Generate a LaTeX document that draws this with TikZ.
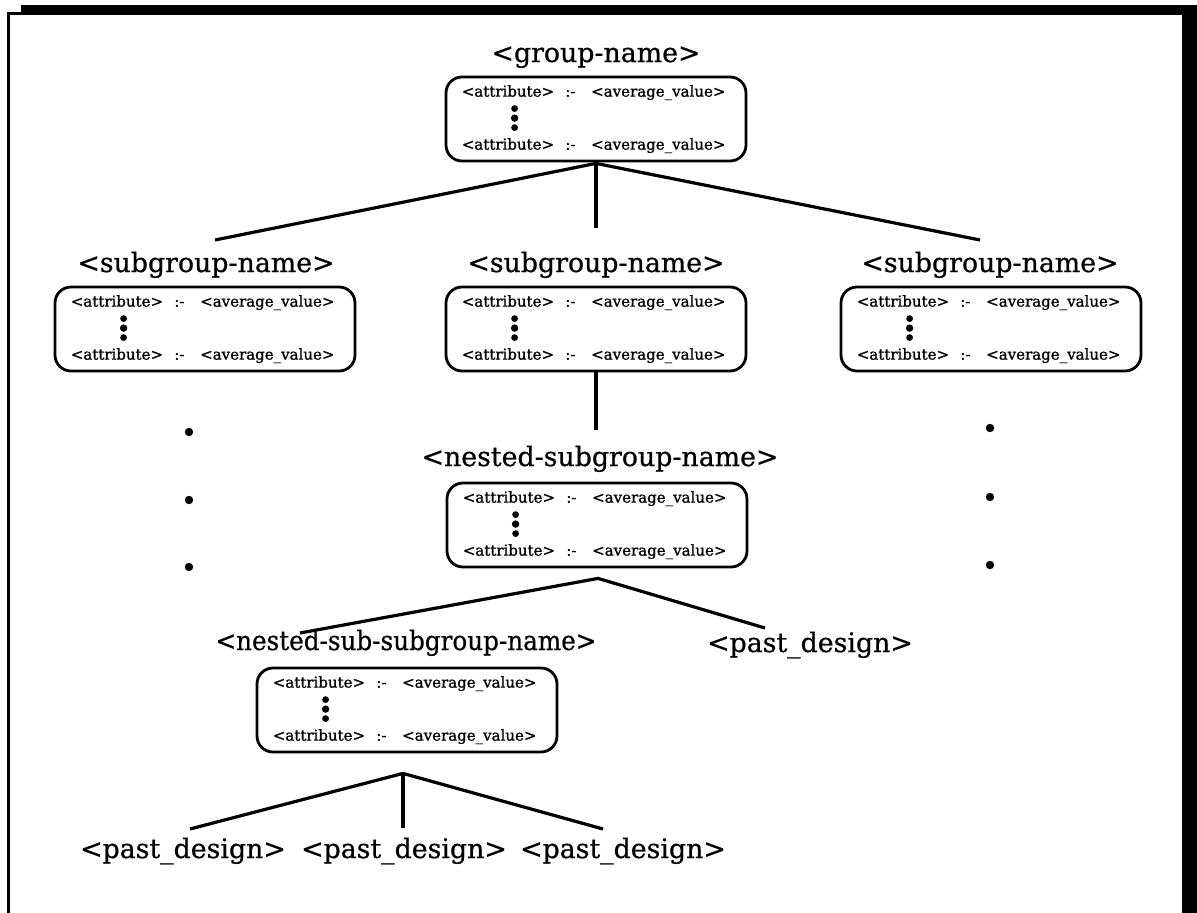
\documentclass[tikz,border=0pt]{standalone}
\usepackage{fontspec}
\setmainfont{DejaVu Serif}
\newfontfamily\headfont[FakeBold=0.7]{DejaVu Serif}
\newfontfamily\attrfont[FakeBold=1.1]{DejaVu Serif}
\usetikzlibrary{calc}
\tikzset{
  framepart/.style={fill=black},
  abox/.style={draw, line width=2.8pt, rounded corners=16pt, minimum width=300pt, minimum height=84pt, inner sep=0pt},
  head/.style={font=\headfont\fontsize{26.8}{31}\selectfont, inner sep=0pt, anchor=base},
  attr/.style={font=\attrfont\fontsize{15}{18}\selectfont, inner sep=0pt, anchor=base west},
  link/.style={line width=3.2pt},
  bigdot/.style={fill=black},
}
\newcommand\attrline{<attribute>\hspace{0.75em}:-\hspace{1.05em}<average\_value>}
\newcommand\attrbox[2]{%
  \node[abox] (#1) at (#2) {};
  \node[attr] (#1-t) at ($(#1.north west)+(17,21)$) {\attrline};
  \node[attr] (#1-b) at ($(#1.north west)+(17,74)$) {\attrline};
  \fill ($(#1.north west)+(70,33)$) circle[radius=3.4pt];
  \fill ($(#1.north west)+(70,42.5)$) circle[radius=3.7pt];
  \fill ($(#1.north west)+(70,52)$) circle[radius=3.4pt];
}
\begin{document}
\begin{tikzpicture}[x=1pt,y=-1pt]
\useasboundingbox (0,0) rectangle (1197,913);
% frame
\fill[framepart] (21,5) rectangle (1197,15);
\fill[framepart] (7,12) rectangle (21,15);
\fill[framepart] (7,12) rectangle (9.5,913);
\fill[framepart] (1182,5) rectangle (1197,913);

% group
\node[head] (gname) at (596,62) {<group-name>};
\attrbox{gbox}{596,119}

% subgroups
\node[head] (s1name) at (206,272) {<subgroup-name>};
\node[head] (s2name) at (596,272) {<subgroup-name>};
\node[head] (s3name) at (990,272) {<subgroup-name>};
\attrbox{s1box}{205,329}
\attrbox{s2box}{596,329}
\attrbox{s3box}{991,329}

% nested
\node[head] (nname) at (600,466) {<nested-subgroup-name>};
\attrbox{nbox}{597,525}

% nested sub
\node[head] (nnname) at (406,650) {\scalebox{0.92}[1]{<nested-sub-subgroup-name>}};
\node[head] (pd0) at (810,652) {<past\_design>};
\attrbox{nnbox}{407,710}

% bottom
\node[head] (pd1) at (183,858) {<past\_design>};
\node[head] (pd2) at (404,858) {<past\_design>};
\node[head] (pd3) at (623,858) {<past\_design>};

% connector coordinates
\coordinate (ga) at ($(gbox.south)+(0,1)$);
\coordinate (g1) at (215,240);
\coordinate (g2) at (596,228);
\coordinate (g3) at (980,240);
\coordinate (s2a) at (s2box.south);
\coordinate (s2e) at (596,430);
\coordinate (na) at ($(nbox.south)+(1,10)$);
\coordinate (n1) at (300,633);
\coordinate (n2) at (765,628);
\coordinate (nna) at ($(nnbox.south)+(-4,20)$);
\coordinate (nn1) at (190,829);
\coordinate (nn2) at (403,828);
\coordinate (nn3) at (603,829);

\draw[link] (g1) -- (ga) -- (g3);
\draw[link] (ga) -- (g2);
\draw[link] (s2a) -- (s2e);
\draw[link] (n1) -- (na) -- (n2);
\draw[link] (nn1) -- (nna) -- (nn3);
\draw[link] (nna) -- (nn2);

% ellipsis dots
\foreach \yy in {432,500,567} \fill[bigdot] (189,\yy) circle[radius=4.2pt];
\foreach \yy in {428,497,565} \fill[bigdot] (990,\yy) circle[radius=4.2pt];
\end{tikzpicture}
\end{document}
